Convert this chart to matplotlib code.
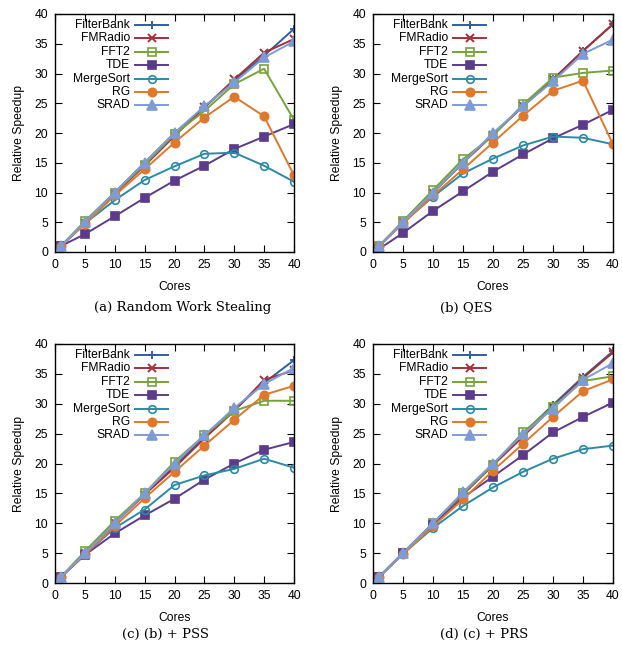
import matplotlib
matplotlib.use('Agg')
import matplotlib.pyplot as plt
from matplotlib.lines import Line2D

# Data
cores = [1, 5, 10, 15, 20, 25, 30, 35, 40]
benchmarks = ['FilterBank', 'FMRadio', 'FFT2', 'TDE', 'MergeSort', 'RG', 'SRAD']

# (a) Random Work Stealing
rws = {
    'FilterBank': [1, 5.0, 10.0, 15.0, 20.0, 24.3, 28.8, 33.0, 37.5],
    'FMRadio':    [1, 4.8, 9.8, 14.5, 19.5, 24.3, 29.0, 33.5, 35.8],
    'FFT2':       [1, 5.2, 10.0, 14.7, 19.8, 23.7, 28.2, 30.8, 22.2],
    'TDE':        [1, 3.0, 6.0, 9.1, 12.0, 14.5, 17.3, 19.4, 21.5],
    'MergeSort':  [1, 4.8, 8.7, 12.1, 14.4, 16.5, 16.7, 14.5, 11.8],
    'RG':         [1, 4.7, 9.5, 13.9, 18.4, 22.6, 26.1, 22.8, 12.9],
    'SRAD':       [1, 5.0, 10.0, 15.0, 20.0, 24.5, 28.5, 32.7, 35.4],
}
# (b) QES
qes = {
    'FilterBank': [1, 5.0, 10.0, 15.0, 19.8, 24.5, 29.0, 33.8, 38.3],
    'FMRadio':    [1, 5.0, 10.0, 15.0, 19.7, 24.5, 29.0, 33.8, 38.3],
    'FFT2':       [1, 5.2, 10.4, 15.6, 19.5, 24.8, 29.3, 30.1, 30.5],
    'TDE':        [0.5, 3.2, 6.9, 10.2, 13.5, 16.4, 19.1, 21.4, 23.9],
    'MergeSort':  [1, 4.9, 9.3, 13.2, 15.7, 17.9, 19.4, 19.2, 18.1],
    'RG':         [1, 4.8, 9.5, 13.9, 18.4, 22.9, 27.1, 28.8, 18.1],
    'SRAD':       [1, 5.0, 10.0, 15.0, 20.0, 24.5, 28.7, 33.3, 35.7],
}
# (c) (b) + PSS
pss = {
    'FilterBank': [1, 5.0, 10.0, 15.0, 19.5, 24.5, 29.0, 33.5, 37.3],
    'FMRadio':    [1, 5.0, 10.0, 14.8, 19.3, 24.2, 28.8, 34.0, 35.6],
    'FFT2':       [1, 5.3, 10.4, 15.0, 20.3, 24.7, 28.8, 30.5, 30.5],
    'TDE':        [1, 4.7, 8.3, 11.3, 14.1, 17.3, 20.0, 22.3, 23.6],
    'MergeSort':  [1, 4.8, 9.2, 12.3, 16.4, 18.0, 19.1, 20.8, 19.3],
    'RG':         [1, 4.8, 9.5, 14.2, 18.6, 23.0, 27.3, 31.5, 33.0],
    'SRAD':       [1, 5.0, 10.0, 15.0, 20.0, 24.7, 29.3, 33.3, 36.0],
}
# (d) (c) + PRS
prs = {
    'FilterBank': [1, 5.0, 10.0, 15.0, 19.8, 25.0, 29.8, 34.5, 38.8],
    'FMRadio':    [1, 5.0, 10.0, 14.8, 19.7, 24.5, 29.5, 34.3, 38.6],
    'FFT2':       [1, 5.0, 10.0, 15.0, 19.8, 25.2, 29.5, 33.8, 34.6],
    'TDE':        [1, 5.0, 9.7, 14.3, 17.8, 21.4, 25.2, 27.8, 30.2],
    'MergeSort':  [1, 4.9, 9.2, 12.9, 16.0, 18.6, 20.8, 22.4, 23.0],
    'RG':         [1, 4.8, 9.5, 14.0, 18.8, 23.3, 27.8, 32.1, 34.1],
    'SRAD':       [1, 5.0, 10.0, 15.2, 20.0, 24.9, 29.2, 34.0, 36.8],
}

panels = [rws, qes, pss, prs]
captions = ['(a) Random Work Stealing', '(b) QES', '(c) (b) + PSS', '(d) (c) + PRS']

# style per benchmark: (color, marker, filled)
STYLES = {
    'FilterBank': ('#2f5f9e', '+', True),
    'FMRadio':    ('#a5303a', 'x', True),
    'FFT2':       ('#76a33a', 's', False),
    'TDE':        ('#5d3b8b', 's', True),
    'MergeSort':  ('#2b8aa6', 'o', False),
    'RG':         ('#e0782c', 'o', True),
    'SRAD':       ('#7d9cd6', '^', True),
}

plt.rcParams['font.family'] = ['Liberation Sans', 'DejaVu Sans']
FS = 8.7

W, H = 622, 647
fig = plt.figure(figsize=(W / 100, H / 100), dpi=100)

# axes boxes in pixels: left, top, right, bottom
boxes = [(55, 14, 294, 252), (373, 14, 613, 252),
         (55, 344, 294, 583), (373, 344, 613, 583)]
caption_pos = [(183, 308), (466, 308), (166, 634), (484, 634)]


def style_kw(name):
    color, marker, filled = STYLES[name]
    kw = dict(color=color, marker=marker, lw=1.4, ms=6, mew=1.4 if marker in '+x' else 1.2)
    if marker == '^':
        kw['ms'] = 6.5
    if marker == 's':
        kw['ms'] = 5.5
    if marker == 'o' and not filled:
        kw['ms'] = 5.5
    kw['mfc'] = color if filled else 'none'
    kw['mec'] = color
    return kw


for data, cap, box, cpos in zip(panels, captions, boxes, caption_pos):
    l, t, r, b = box
    ax = fig.add_axes([l / W, 1 - b / H, (r - l) / W, (b - t) / H])
    for name in benchmarks:
        ax.plot(cores, data[name], **style_kw(name))
    ax.set_xlim(0, 40)
    ax.set_ylim(0, 40)
    ax.set_xticks(range(0, 41, 5))
    ax.set_yticks(range(0, 41, 5))
    ax.tick_params(direction='in', top=True, right=True, length=5, width=0.8,
                   labelsize=FS, pad=5)
    for sp in ax.spines.values():
        sp.set_linewidth(1.0)
    ax.set_xlabel('Cores', fontsize=FS, labelpad=7)
    ax.set_ylabel('Relative Speedup', fontsize=FS, labelpad=7)

    # gnuplot-style key: right-aligned text followed by line sample
    ah = b - t
    aw = r - l
    for i, name in enumerate(benchmarks):
        y = 1 - (11 + i * 13.4) / ah
        ax.text(75 / aw, y, name, transform=ax.transAxes, ha='right', va='center',
                fontsize=FS)
        kw = style_kw(name)
        ax.add_line(Line2D([80 / aw, 113 / aw], [y, y], transform=ax.transAxes,
                           color=kw['color'], lw=kw['lw']))
        ax.add_line(Line2D([96.5 / aw], [y], transform=ax.transAxes, ls='none',
                           marker=kw['marker'], ms=kw['ms'], mew=kw['mew'],
                           mfc=kw['mfc'], mec=kw['mec']))

    fig.text(cpos[0] / W, 1 - cpos[1] / H, cap, ha='center', va='center',
             fontsize=9.5, family='DejaVu Serif')

fig.savefig('out.png', dpi=100)
